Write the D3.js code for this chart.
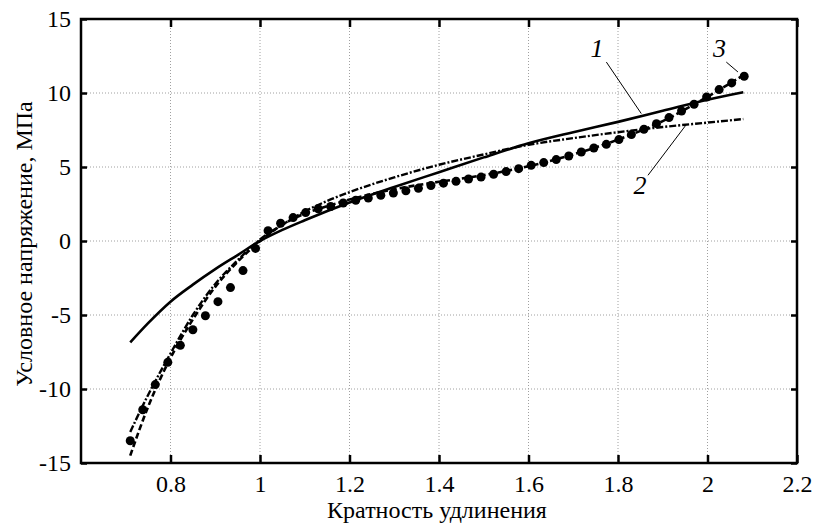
<!DOCTYPE html>
<html>
<head>
<meta charset="utf-8">
<script src="https://cdn.jsdelivr.net/npm/d3@7"></script>
<style>
  body { margin: 0; background: #fff; }
</style>
</head>
<body>
<div id="chart"></div>
<script>
// ── Data ──
const xTicks = [0.8, 1, 1.2, 1.4, 1.6, 1.8, 2, 2.2];
const yTicks = [-15, -10, -5, 0, 5, 10, 15];

// experimental points (dots)
const expX = [0.710, 0.738, 0.766, 0.794, 0.822, 0.850, 0.878, 0.906, 0.934, 0.962,
              0.990, 1.018, 1.046, 1.074, 1.102, 1.130, 1.158, 1.186, 1.214, 1.242,
              1.270, 1.298, 1.326, 1.354, 1.382, 1.410, 1.438, 1.466, 1.494, 1.522,
              1.550, 1.578, 1.606, 1.634, 1.662, 1.690, 1.718, 1.746, 1.774, 1.802,
              1.830, 1.858, 1.886, 1.914, 1.942, 1.970, 1.998, 2.026, 2.054, 2.082];
const expY = [-13.5, -11.4, -9.7, -8.2, -7.05, -6.0, -5.05, -4.1, -3.15, -2.0,
              -0.5, 0.7, 1.2, 1.58, 1.92, 2.18, 2.33, 2.57, 2.75, 2.9,
              3.09, 3.24, 3.39, 3.56, 3.75, 3.91, 4.03, 4.19, 4.32, 4.51,
              4.69, 4.89, 5.11, 5.30, 5.50, 5.74, 6.01, 6.28, 6.53, 6.85,
              7.19, 7.55, 7.93, 8.34, 8.78, 9.24, 9.73, 10.23, 10.68, 11.13];

// model curve 1 (solid)
const c1X = [0.71, 0.75, 0.8, 0.85, 0.9, 0.95, 1.0, 1.05, 1.1, 1.2, 1.3, 1.4, 1.5, 1.6, 1.7, 1.8, 1.9, 2.0, 2.08];
const c1Y = [-6.85, -5.55, -4.1, -2.95, -1.9, -0.95, 0, 0.75, 1.4, 2.6, 3.65, 4.65, 5.65, 6.6, 7.35, 8.05, 8.8, 9.55, 10.05];

// model curve 2 (dash-dot)
const c2X = [0.71, 0.75, 0.8, 0.85, 0.9, 0.95, 1.0, 1.05, 1.1, 1.15, 1.2, 1.3, 1.4, 1.5, 1.6, 1.7, 1.8, 1.9, 2.0, 2.08];
const c2Y = [-12.9, -10.4, -7.6, -5.0, -2.9, -1.3, 0.1, 1.1, 2.0, 2.7, 3.3, 4.3, 5.15, 5.85, 6.5, 6.95, 7.35, 7.7, 8.0, 8.24];

// model curve 3 (dashed)
const c3X = [0.71, 0.75, 0.8, 0.85, 0.9, 0.95, 1.0, 1.05, 1.1, 1.15, 1.2, 1.3, 1.4, 1.5, 1.6, 1.7, 1.8, 1.9, 2.0, 2.08];
const c3Y = [-14.5, -11.2, -7.9, -5.3, -3.1, -1.4, 0.0, 1.1, 1.85, 2.35, 2.8, 3.5, 4.0, 4.45, 5.05, 5.85, 6.85, 8.1, 9.75, 11.2];

// curve numbers and their leader lines (data coordinates)
const curveLabels = ['1', '2', '3'];
const labelPos    = [[1.753, 13.07], [1.849, 3.76], [2.027, 13.07]];
const leaderFrom  = [[1.774, 12.09], [1.867, 4.44], [2.042, 12.09]];
const leaderTo    = [[1.852, 8.61],  [1.953, 7.88], [2.068, 11.42]];

const FONT = '"Liberation Serif"';

// ── Layout ──
const W = 815, H = 525;
const margin = { top: 19, right: 18, bottom: 62, left: 81 };
const width  = W - margin.left - margin.right;
const height = H - margin.top - margin.bottom;

const svg = d3.select('#chart').append('svg')
  .attr('width', W).attr('height', H);

const g = svg.append('g')
  .attr('transform', `translate(${margin.left},${margin.top})`);

const x = d3.scaleLinear().domain([0.6, 2.2]).range([0, width]);
const y = d3.scaleLinear().domain([-15, 15]).range([height, 0]);

// Grid
g.append('g').selectAll('line')
  .data(xTicks.slice(0, -1))
  .enter().append('line')
  .attr('x1', d => x(d)).attr('x2', d => x(d))
  .attr('y1', 0).attr('y2', height)
  .attr('stroke', '#a0a0a0').attr('stroke-width', 1)
  .attr('stroke-dasharray', '1,2');
g.append('g').selectAll('line')
  .data(yTicks.slice(1, -1))
  .enter().append('line')
  .attr('x1', 0).attr('x2', width)
  .attr('y1', d => y(d)).attr('y2', d => y(d))
  .attr('stroke', '#a0a0a0').attr('stroke-width', 1)
  .attr('stroke-dasharray', '1,2');

// Axes (ticks inward, on all four sides)
function styleAxis(sel) {
  sel.select('.domain').remove();
  sel.selectAll('line').attr('stroke', '#000').attr('stroke-width', 2.5);
  sel.selectAll('text')
    .style('font-family', FONT)
    .style('font-size', '24px')
    .attr('fill', '#000');
}

g.append('g')
  .attr('transform', `translate(0,${height})`)
  .call(d3.axisBottom(x).tickValues(xTicks).tickSizeInner(-8).tickSizeOuter(0)
    .tickPadding(12).tickFormat(d => String(d)))
  .call(styleAxis);

g.append('g')
  .call(d3.axisTop(x).tickValues(xTicks).tickSizeInner(-8).tickSizeOuter(0).tickFormat(''))
  .call(styleAxis);

g.append('g')
  .call(d3.axisLeft(y).tickValues(yTicks).tickSizeInner(-6).tickSizeOuter(0)
    .tickPadding(10).tickFormat(d => String(d)))
  .call(styleAxis);

g.append('g')
  .attr('transform', `translate(${width},0)`)
  .call(d3.axisRight(y).tickValues(yTicks).tickSizeInner(-6).tickSizeOuter(0).tickFormat(''))
  .call(styleAxis);

// Frame
g.append('rect')
  .attr('width', width).attr('height', height)
  .attr('fill', 'none').attr('stroke', '#000').attr('stroke-width', 2.5);

// Curves
const line = d3.line().x(d => x(d[0])).y(d => y(d[1])).curve(d3.curveMonotoneX);
const zip = (xs, ys) => xs.map((v, i) => [v, ys[i]]);

g.append('path').datum(zip(c1X, c1Y))
  .attr('fill', 'none').attr('stroke', '#000').attr('stroke-width', 2.6)
  .attr('d', line);

g.append('path').datum(zip(c2X, c2Y))
  .attr('fill', 'none').attr('stroke', '#000').attr('stroke-width', 2.4)
  .attr('stroke-dasharray', '7,2,2,2')
  .attr('d', line);

g.append('path').datum(zip(c3X, c3Y))
  .attr('fill', 'none').attr('stroke', '#000').attr('stroke-width', 2.6)
  .attr('stroke-dasharray', '6,3')
  .attr('d', line);

// Experimental dots
g.selectAll('circle.exp')
  .data(zip(expX, expY))
  .enter().append('circle')
  .attr('class', 'exp')
  .attr('cx', d => x(d[0])).attr('cy', d => y(d[1]))
  .attr('r', 4.5).attr('fill', '#000');

// Curve labels with leader lines
curveLabels.forEach((t, i) => {
  g.append('line')
    .attr('x1', x(leaderFrom[i][0])).attr('y1', y(leaderFrom[i][1]))
    .attr('x2', x(leaderTo[i][0])).attr('y2', y(leaderTo[i][1]))
    .attr('stroke', '#000').attr('stroke-width', 1);
  g.append('text')
    .attr('x', x(labelPos[i][0])).attr('y', y(labelPos[i][1]))
    .attr('dy', '0.35em')
    .attr('text-anchor', 'middle')
    .style('font-family', FONT)
    .style('font-size', '26px').style('font-style', 'italic')
    .text(t);
});

// Axis titles
svg.append('text')
  .attr('x', 437).attr('y', 518)
  .attr('text-anchor', 'middle')
  .style('font-family', FONT)
  .style('font-size', '24px')
  .text('Кратность удлинения');

svg.append('text')
  .attr('transform', 'translate(32,244) rotate(-90)')
  .attr('text-anchor', 'middle')
  .style('font-family', FONT)
  .style('font-size', '24px')
  .text('Условное напряжение, МПа');
</script>
</body>
</html>
